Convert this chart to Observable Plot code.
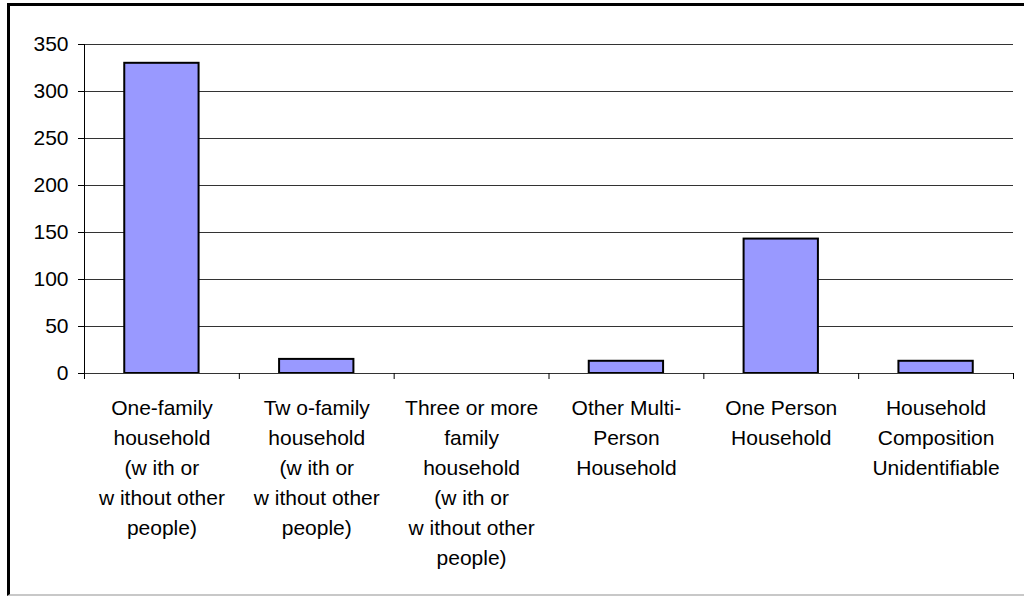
<!DOCTYPE html>
<html>
<head>
<meta charset="utf-8">
<script src="https://cdn.jsdelivr.net/npm/d3@7"></script>
<script src="https://cdn.jsdelivr.net/npm/@observablehq/plot@0.6"></script>
<style>
  html, body { margin: 0; padding: 0; background: #fff; }
  #wrap { position: relative; width: 1024px; height: 596px; overflow: hidden; }
  #frame { position: absolute; left: 7px; top: 3px; width: 1030px; height: 593px; border-left: 3px solid #000; border-top: 3px solid #000; border-bottom: 2px solid #c8c8c8; box-sizing: border-box; pointer-events: none; }
  svg { display: block; }
</style>
</head>
<body>
<div id="wrap"><div id="frame"></div></div>
<script>
const categories = [
  "One-family\nhousehold\n(w ith or\nw ithout other\npeople)",
  "Tw o-family\nhousehold\n(w ith or\nw ithout other\npeople)",
  "Three or more\nfamily\nhousehold\n(w ith or\nw ithout other\npeople)",
  "Other Multi-\nPerson\nHousehold",
  "One Person\nHousehold",
  "Household\nComposition\nUnidentifiable"
];
const values = [330, 15, 0, 13, 143, 13];
const yTicks = [0, 50, 100, 150, 200, 250, 300, 350];

const data = categories.map((c, i) => ({label: c, value: values[i], i}));
const boundaries = d3.range(categories.length + 1);
const gap = 0.26;

const chart = Plot.plot({
  width: 1024,
  height: 596,
  marginLeft: 84,
  marginRight: 11,
  marginTop: 44,
  marginBottom: 223,
  style: {fontFamily: "'Liberation Sans', Arial, sans-serif", fontSize: "21px", color: "#000", background: "#fff"},
  x: {type: "linear", domain: [0, categories.length], axis: null},
  y: {type: "linear", domain: [0, 350], label: null, axis: null},
  marks: [
    Plot.gridY(yTicks.filter(d => d > 0), {stroke: "#333", strokeOpacity: 1, strokeWidth: 1}),
    Plot.rect(data.filter(d => d.value > 0), {
      x1: d => d.i + gap, x2: d => d.i + 1 - gap, y1: 0, y2: "value",
      fill: "#9999ff", stroke: "#000", strokeWidth: 2
    }),
    Plot.ruleX([0], {stroke: "#000"}),
    Plot.ruleY([0], {stroke: "#333"}),
    Plot.ruleX(boundaries, {x: d => d, y1: 0, y2: 0, insetBottom: -6, stroke: "#000"}),
    Plot.text(data, {
      x: d => d.i + 0.5, y: 0, text: "label", lineAnchor: "top", dy: 20,
      lineHeight: 1.43, fontSize: 21, fill: "#000"
    }),
    Plot.axisY(yTicks, {tickSize: 6, tickPadding: 10, fontSize: 21, stroke: "#000", label: null})
  ]
});
const wrap = document.getElementById("wrap");
wrap.insertBefore(chart, wrap.firstChild);
</script>
</body>
</html>
